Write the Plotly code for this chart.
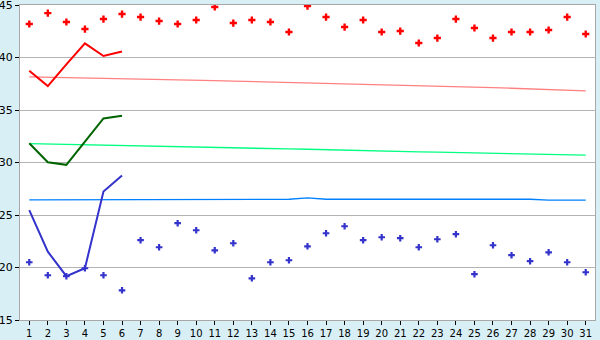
import plotly.graph_objects as go

days = list(range(1, 32))

red_points = [43.19, 44.23, 43.38, 42.71, 43.66, 44.14, 43.85, 43.47, 43.19, 43.57,
              44.81, 43.28, 43.57, 43.38, 42.43, 44.90, 43.85, 42.90, 43.57, 42.43,
              42.52, 41.38, 41.85, 43.66, 42.81, 41.85, 42.43, 42.43, 42.62, 43.85, 42.24]

blue_points = [20.50, 19.26, 19.17, 19.93, 19.26, 17.83, 22.60, 21.93, 24.22, 23.55,
               21.64, 22.31, 18.97, 20.50, 20.69, 22.02, 23.26, 23.93, 22.60, 22.88,
               22.79, 21.93, 22.69, 23.17, 19.36, 22.12, 21.17, 20.60, 21.45, 20.50, 19.55]

line_days = [1, 2, 3, 4, 5, 6]
red_line = [38.74, 37.28, 39.34, 41.35, 40.14, 40.58]
green_line = [31.84, 30.03, 29.78, 32.00, 34.20, 34.45]
blue_line = [25.46, 21.51, 19.17, 19.93, 27.23, 28.76]

pink_normal = [38.15, 38.12, 38.09, 38.05, 38.02, 37.98, 37.94, 37.90, 37.86, 37.83,
               37.79, 37.75, 37.71, 37.67, 37.63, 37.59, 37.55, 37.51, 37.47, 37.43,
               37.38, 37.33, 37.28, 37.23, 37.18, 37.13, 37.07, 37.01, 36.95, 36.89, 36.82]

lightgreen_normal = [31.80, 31.76, 31.72, 31.68, 31.63, 31.58, 31.54, 31.50, 31.47, 31.44,
                     31.41, 31.38, 31.35, 31.32, 31.29, 31.26, 31.23, 31.19, 31.16, 31.12,
                     31.06, 31.02, 30.98, 30.94, 30.91, 30.88, 30.85, 30.82, 30.79, 30.75, 30.70]

lightblue_normal = [26.44, 26.44, 26.44, 26.50, 26.50, 26.50, 26.50, 26.50, 26.50, 26.50,
                    26.50, 26.50, 26.50, 26.50, 26.50, 26.63, 26.50, 26.50, 26.50, 26.50,
                    26.50, 26.50, 26.50, 26.50, 26.50, 26.50, 26.50, 26.50, 26.41, 26.41, 26.41]

y_ticks = [15, 20, 25, 30, 35, 40, 45]

fig = go.Figure()

fig.add_trace(go.Scatter(x=days, y=pink_normal, mode="lines",
                         line=dict(color="#FF8080", width=1.3), hoverinfo="skip"))
fig.add_trace(go.Scatter(x=days, y=lightgreen_normal, mode="lines",
                         line=dict(color="#00FF80", width=1.3), hoverinfo="skip"))
fig.add_trace(go.Scatter(x=days, y=lightblue_normal, mode="lines",
                         line=dict(color="#0080FF", width=1.3), hoverinfo="skip"))

fig.add_trace(go.Scatter(x=line_days, y=red_line, mode="lines",
                         line=dict(color="#FF0000", width=2)))
fig.add_trace(go.Scatter(x=line_days, y=green_line, mode="lines",
                         line=dict(color="#006400", width=2)))
fig.add_trace(go.Scatter(x=line_days, y=blue_line, mode="lines",
                         line=dict(color="#3333CC", width=2)))

fig.add_trace(go.Scatter(x=days, y=red_points, mode="markers",
                         marker=dict(symbol="cross", size=6, color="#FF0000", line=dict(width=0))))
fig.add_trace(go.Scatter(x=days, y=blue_points, mode="markers",
                         marker=dict(symbol="cross", size=5.5, color="#3333CC", line=dict(width=0))))

fig.update_layout(
    width=600, height=340,
    margin=dict(l=20, r=5, t=5, b=20),
    paper_bgcolor="#D8EFF6",
    plot_bgcolor="#FFFFFF",
    showlegend=False,
    font=dict(family="DejaVu Sans", size=10, color="#000000"),
)
fig.update_xaxes(range=[0.5, 31.5], tickvals=days, ticktext=[str(d) for d in days],
                 showgrid=False, zeroline=False, automargin=False,
                 showline=True, linecolor="#A8A8A8", linewidth=1, mirror=True,
                 ticks="outside", ticklen=4, tickcolor="#000000",
                 tickfont=dict(family="DejaVu Sans", size=10))
fig.update_yaxes(range=[15, 45], tickvals=y_ticks,
                 showgrid=True, gridcolor="#B4B4B4", gridwidth=1, zeroline=False, automargin=False,
                 showline=True, linecolor="#A8A8A8", linewidth=1, mirror=True,
                 ticks="outside", ticklen=4, tickcolor="#000000",
                 ticklabeloverflow="allow",
                 tickfont=dict(family="DejaVu Sans", size=11))

fig.write_html("out.html")
